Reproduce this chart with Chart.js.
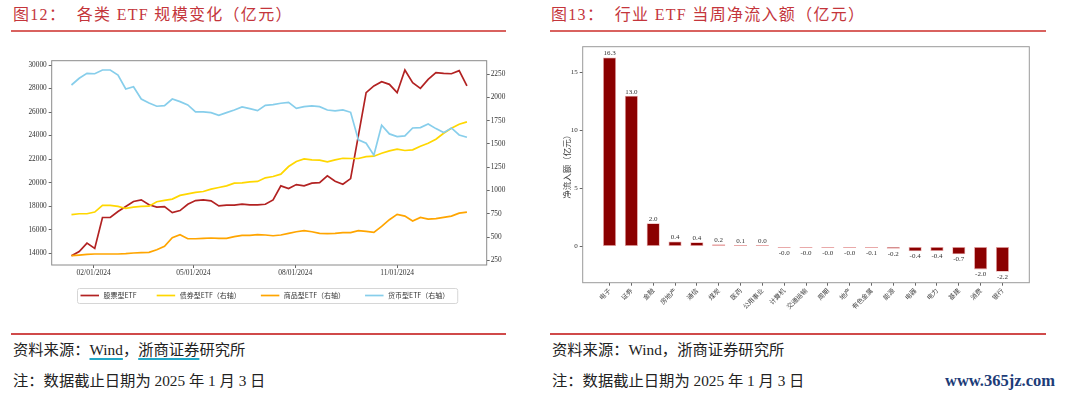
<!DOCTYPE html>
<html>
<head>
<meta charset="utf-8">
<script src="https://cdn.jsdelivr.net/npm/chart.js@4.4.1/dist/chart.umd.min.js"></script>
<style>
  body { margin: 0; width: 1080px; height: 397px; background: #fff; position: relative; overflow: hidden;
         font-family: "Liberation Serif", "Noto Sans CJK SC", serif; }
  .title { position: absolute; font-size: 16px; line-height: 20px; color: #c4353b; white-space: pre; letter-spacing: 1.3px; }
  .rule { position: absolute; height: 2px; background: #d9625f; }
  .rule2 { position: absolute; height: 1.5px; background: #d04a4a; }
  .note { position: absolute; font-size: 15.3px; line-height: 18px; color: #222; white-space: pre; }
  .link { text-decoration: underline; text-decoration-color: #22a8c6; text-decoration-thickness: 2px; text-underline-offset: 3px; }
  .mark { position: absolute; right: 25px; top: 371px; font-size: 16.5px; line-height: 20px; color: #1d3c78; font-weight: bold; }
  canvas { position: absolute; top: 40px; }
</style>
</head>
<body>
<div class="title" style="left:13px;top:5px">图12：  各类 ETF 规模变化（亿元）</div>
<div class="rule" style="left:11px;top:30px;width:495px"></div>
<div class="title" style="left:551px;top:5px">图13：  行业 ETF 当周净流入额（亿元）</div>
<div class="rule" style="left:550px;top:30px;width:496px"></div>

<canvas id="scaleChart" width="540" height="280" style="left:0px"></canvas>
<canvas id="flowChart" width="540" height="280" style="left:540px"></canvas>

<div class="rule2" style="left:11px;top:333px;width:495px"></div>
<div class="note" style="left:13px;top:341px">资料来源：<span class="link">Wind</span>，<span class="link">浙商证券</span>研究所</div>
<div class="note" style="left:13px;top:372px">注：数据截止日期为 2025 年 1 月 3 日</div>
<div class="rule2" style="left:550px;top:333px;width:496px"></div>
<div class="note" style="left:552px;top:341px">资料来源：Wind，浙商证券研究所</div>
<div class="note" style="left:552px;top:372px">注：数据截止日期为 2025 年 1 月 3 日</div>
<div class="mark">www.365jz.com</div>

<script>
// 图12 数据（周度）
const weekDates = [
    '2024-01-12', '2024-01-19', '2024-01-26', '2024-02-02', '2024-02-09', '2024-02-16', '2024-02-23',
    '2024-03-01', '2024-03-08', '2024-03-15', '2024-03-22', '2024-03-29', '2024-04-05', '2024-04-12',
    '2024-04-19', '2024-04-26', '2024-05-03', '2024-05-10', '2024-05-17', '2024-05-24', '2024-05-31',
    '2024-06-07', '2024-06-14', '2024-06-21', '2024-06-28', '2024-07-05', '2024-07-12', '2024-07-19',
    '2024-07-26', '2024-08-02', '2024-08-09', '2024-08-16', '2024-08-23', '2024-08-30', '2024-09-06',
    '2024-09-13', '2024-09-20', '2024-09-27', '2024-10-04', '2024-10-11', '2024-10-18', '2024-10-25',
    '2024-11-01', '2024-11-08', '2024-11-15', '2024-11-22', '2024-11-29', '2024-12-06', '2024-12-13',
    '2024-12-20', '2024-12-27', '2025-01-03'
];
const stockEtf = [
    13780, 14140, 14850, 14400, 17030, 17030, 17540, 17960, 18390, 18530, 18110, 17910, 17960, 17450,
    17620, 18160, 18470, 18530, 18450, 18020, 18080, 18080, 18160, 18110, 18110, 18160, 18530, 19720,
    19490, 19830, 19720, 19950, 20000, 20570, 20120, 19860, 20340, 24000, 27650, 28220, 28580, 28360,
    27650, 29580, 28500, 28020, 28780, 29350, 29290, 29260, 29520, 28220
];
const bondEtf = [
    740, 750, 750, 768, 839, 839, 829, 807, 821, 829, 832, 879, 893, 907, 947, 964, 979, 989, 1014,
    1032, 1050, 1079, 1082, 1093, 1097, 1136, 1150, 1175, 1257, 1311, 1339, 1329, 1325, 1307, 1329,
    1346, 1343, 1343, 1364, 1368, 1400, 1425, 1443, 1429, 1436, 1475, 1507, 1550, 1614, 1668, 1711, 1736
];
const commodityEtf = [
    300, 307, 314, 318, 318, 318, 318, 322, 329, 332, 336, 364, 400, 493, 525, 482, 482, 486, 490,
    486, 486, 504, 518, 518, 525, 522, 514, 522, 539, 557, 568, 557, 539, 536, 539, 547, 547, 568,
    561, 550, 614, 686, 743, 725, 672, 711, 693, 697, 711, 725, 757, 768
];
const moneyEtf = [
    2132, 2204, 2257, 2253, 2293, 2293, 2239, 2089, 2114, 1982, 1939, 1904, 1911, 1982, 1954, 1918,
    1843, 1843, 1836, 1807, 1836, 1864, 1896, 1879, 1857, 1914, 1921, 1936, 1946, 1882, 1900, 1907,
    1900, 1864, 1854, 1864, 1839, 1543, 1507, 1379, 1700, 1607, 1579, 1586, 1671, 1675, 1714, 1664,
    1621, 1671, 1596, 1571
];
const dateTicks = ['2024-02-01', '2024-05-01', '2024-08-01', '2024-11-01'];
const leftTicks = [14000, 16000, 18000, 20000, 22000, 24000, 26000, 28000, 30000];
const rightTicks = [250, 500, 750, 1000, 1250, 1500, 1750, 2000, 2250];

// 图13 数据
const industries = ['电子', '证券', '金融', '房地产', '通信', '煤炭', '医药', '公用事业', '计算机', '交通运输',
    '周期', '地产', '有色金属', '能源', '电器', '电力', '基建', '消费', '银行'];
const netInflow = [16.3, 13.0, 2.0, 0.43, 0.37, 0.18, 0.08, 0.02, -0.02, -0.02, -0.02, -0.03,
    -0.09, -0.2, -0.42, -0.4, -0.67, -1.98, -2.18];
const inflowTicks = [0, 5, 10, 15];

const day0 = Date.UTC(2024, 0, 1);
const toDay = s => (Date.parse(s) - day0) / 86400000;
const pad2 = n => String(n).padStart(2, '0');
const fmtDay = v => {
    const d = new Date(day0 + v * 86400000);
    return pad2(d.getUTCMonth() + 1) + '/' + pad2(d.getUTCDate()) + '/' + d.getUTCFullYear();
};
const series = arr => arr.map((v, i) => ({x: toDay(weekDates[i]), y: v}));

const serif = '"Liberation Serif", "Noto Sans CJK SC", serif';
const cjk = '"Noto Sans CJK SC", sans-serif';
Chart.defaults.font.family = serif;
Chart.defaults.color = '#333';

const framePlugin = {
    id: 'frame',
    afterDatasetsDraw(chart, args, opts) {
        const a = chart.chartArea;
        const ctx = chart.ctx;
        ctx.save();
        ctx.strokeStyle = opts.color || '#888';
        ctx.lineWidth = 1;
        ctx.strokeRect(a.left, a.top, a.right - a.left, a.bottom - a.top);
        ctx.restore();
    }
};

const lineLegend = {
    id: 'lineLegend',
    afterDraw(chart) {
        const ctx = chart.ctx;
        const items = chart.data.datasets;
        ctx.save();
        ctx.font = '7px ' + cjk;
        const top = 248, bottom = 263, left = 77;
        let x = left + 3.5;
        const y = (top + bottom) / 2;
        ctx.textBaseline = 'middle';
        items.forEach(ds => {
            ctx.strokeStyle = ds.borderColor;
            ctx.lineWidth = 1.7;
            ctx.beginPath();
            ctx.moveTo(x, y);
            ctx.lineTo(x + 18.5, y);
            ctx.stroke();
            ctx.fillStyle = '#333';
            ctx.fillText(ds.label, x + 23, y);
            x += 23 + ctx.measureText(ds.label).width + 20;
        });
        const right = x - 20 + 8;
        ctx.strokeStyle = '#d6d6d6';
        ctx.lineWidth = 1;
        ctx.beginPath();
        ctx.roundRect(left + 0.5, top + 0.5, right - left, bottom - top, 2);
        ctx.stroke();
        ctx.restore();
    }
};

new Chart(document.getElementById('scaleChart').getContext('2d'), {
    type: 'line',
    data: {
        datasets: [{
            label: '股票型ETF',
            data: series(stockEtf),
            borderColor: '#b22222',
            yAxisID: 'y',
            order: 3
        }, {
            label: '债券型ETF（右轴）',
            data: series(bondEtf),
            borderColor: '#ffd700',
            yAxisID: 'y1',
            order: 2
        }, {
            label: '商品型ETF（右轴）',
            data: series(commodityEtf),
            borderColor: '#ffa500',
            yAxisID: 'y1',
            order: 1
        }, {
            label: '货币型ETF（右轴）',
            data: series(moneyEtf),
            borderColor: '#87ceeb',
            yAxisID: 'y1',
            order: 0
        }]
    },
    options: {
        responsive: false,
        animation: false,
        layout: {padding: {top: 20.7, bottom: 35, left: 0, right: 0}},
        elements: {
            point: {radius: 0},
            line: {borderWidth: 1.7, tension: 0}
        },
        scales: {
            x: {
                type: 'linear',
                min: -6.85,
                max: 385.85,
                afterBuildTicks: s => { s.ticks = dateTicks.map(d => ({value: toDay(d)})); },
                afterFit: s => { s.height = 20; },
                border: {display: false},
                grid: {drawOnChartArea: false, tickLength: 3, tickColor: '#666'},
                ticks: {autoSkip: false, maxRotation: 0, padding: 1, font: {size: 7.5}, callback: v => fmtDay(v)}
            },
            y: {
                position: 'left',
                min: 12990,
                max: 30370,
                afterBuildTicks: s => { s.ticks = leftTicks.map(v => ({value: v})); },
                afterFit: s => { s.width = 51.7; },
                border: {display: false},
                grid: {drawOnChartArea: false, tickLength: 3, tickColor: '#666'},
                ticks: {padding: 2, font: {size: 7.3}, callback: v => String(v)}
            },
            y1: {
                position: 'right',
                min: 200,
                max: 2393,
                afterBuildTicks: s => { s.ticks = rightTicks.map(v => ({value: v})); },
                afterFit: s => { s.width = 53.3; },
                border: {display: false},
                grid: {drawOnChartArea: false, tickLength: 3, tickColor: '#666'},
                ticks: {padding: 1, font: {size: 7.3}, callback: v => String(v)}
            }
        },
        plugins: {
            legend: {display: false},
            tooltip: {enabled: false},
            frame: {color: '#8a8a8a'}
        }
    },
    plugins: [framePlugin, lineLegend]
});

const barLabels = {
    id: 'barLabels',
    afterDatasetsDraw(chart) {
        const ctx = chart.ctx;
        const meta = chart.getDatasetMeta(0);
        ctx.save();
        ctx.font = '7px ' + serif;
        ctx.fillStyle = '#333';
        ctx.textAlign = 'center';
        meta.data.forEach((bar, i) => {
            const v = netInflow[i];
            if (v >= 0) {
                ctx.textBaseline = 'bottom';
                ctx.fillText(v.toFixed(1), bar.x, bar.y - 0.5);
            } else {
                ctx.textBaseline = 'top';
                ctx.fillText(v.toFixed(1), bar.x, bar.y + 1.5);
            }
        });
        ctx.restore();
    }
};

new Chart(document.getElementById('flowChart').getContext('2d'), {
    type: 'bar',
    data: {
        datasets: [{
            label: '净流入额',
            data: netInflow.map((v, i) => ({x: i, y: v})),
            backgroundColor: '#8b0000',
            borderColor: '#e9a9a9',
            borderWidth: 0.8,
            borderSkipped: false,
            minBarLength: 1.5,
            categoryPercentage: 1,
            barPercentage: 0.6
        }]
    },
    options: {
        responsive: false,
        animation: false,
        layout: {padding: {top: 6.7, right: 50.7, left: 0, bottom: 0}},
        scales: {
            x: {
                type: 'linear',
                offset: false,
                min: -1.23,
                max: 19.23,
                afterBuildTicks: s => { s.ticks = industries.map((_, i) => ({value: i})); },
                afterFit: s => { s.height = 37.3; },
                border: {display: false},
                grid: {offset: false, drawOnChartArea: false, tickLength: 3, tickColor: '#666'},
                ticks: {
                    autoSkip: false, minRotation: 45, maxRotation: 45, padding: 1,
                    font: {size: 6.5, family: cjk}, color: '#444',
                    callback: v => industries[v]
                }
            },
            y: {
                min: -3.125,
                max: 17.225,
                afterBuildTicks: s => { s.ticks = inflowTicks.map(v => ({value: v})); },
                afterFit: s => { s.width = 42.7; },
                border: {display: false},
                grid: {drawOnChartArea: false, tickLength: 3, tickColor: '#666'},
                ticks: {padding: 2, font: {size: 7}, callback: v => String(v)},
                title: {
                    display: true,
                    text: '净流入额（亿元）',
                    font: {size: 8.5, family: cjk},
                    color: '#444',
                    padding: {top: 22, bottom: 0}
                }
            }
        },
        plugins: {
            legend: {display: false},
            tooltip: {enabled: false},
            frame: {color: '#9a9a9a'}
        }
    },
    plugins: [framePlugin, barLabels]
});
</script>
</body>
</html>
